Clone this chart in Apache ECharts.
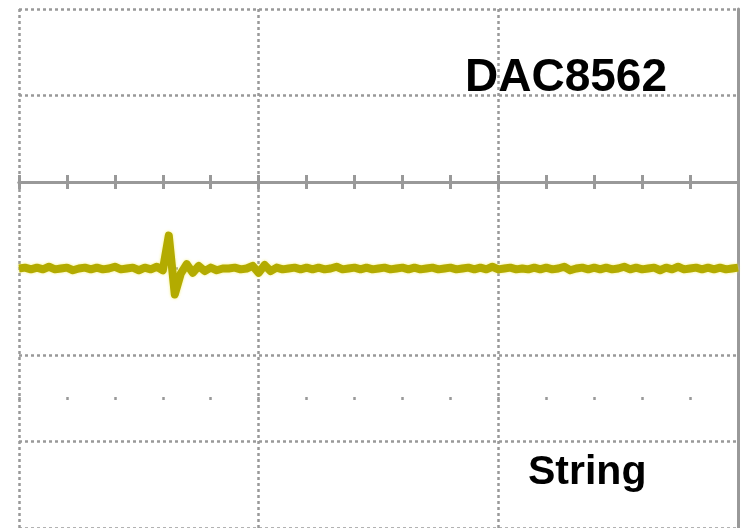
<!DOCTYPE html>
<html>
<head>
<meta charset="utf-8">
<script src="https://cdn.jsdelivr.net/npm/echarts@6/dist/echarts.min.js"></script>
<style>
  html, body { margin: 0; padding: 0; background: #fff; }
  #chart { width: 741px; height: 528px; }
</style>
</head>
<body>
<div id="chart"></div>
<script>
// scope trace, values in divisions (x: time div, y: vertical div, 0 = marked axis)
const sampleStep = 0.025;
const volts = [
  -1.00, -0.99, -1.01, -0.99, -1.01, -0.98, -1.01, -1.00, -0.99, -1.02,
  -1.00, -0.99, -1.01, -0.99, -1.01, -1.00, -0.98, -1.01, -1.00, -0.99,
  -1.02, -0.99, -1.01, -0.98, -1.02,
  -0.62, -1.30, -1.06, -0.95, -1.05, -0.97, -1.03, -0.99, -1.02, -1.00,
  -1.00, -0.99, -1.01, -1.00, -0.97, -1.05, -0.96, -1.03, -0.99, -1.01,
  -1.00, -0.99, -1.01, -0.99, -1.01, -0.99, -1.01, -1.00, -0.98, -1.01,
  -1.00, -0.99, -1.01, -0.99, -1.01, -1.00, -0.99, -1.01, -1.00, -0.99,
  -1.01, -0.99, -1.01, -1.00, -0.99, -1.01, -1.00, -0.99, -1.01, -1.00,
  -0.99, -1.01, -0.99, -1.01, -0.98, -1.01, -1.00, -0.99, -1.01, -1.00,
  -1.01, -0.99, -1.01, -0.99, -1.01, -1.00, -0.98, -1.02, -1.00, -0.99,
  -1.01, -0.99, -1.01, -0.99, -1.01, -1.00, -0.98, -1.01, -0.99, -1.01,
  -1.00, -0.99, -1.02, -0.99, -1.01, -0.98, -1.01, -1.00, -0.99, -1.01,
  -0.99, -1.01, -0.99, -1.01, -1.00, -0.99
];
const titleText = 'DAC8562';
const subText = 'String';

const gridColor = '#999';
const traceColor = '#b3ab00';
const dots = { color: gridColor, width: 2.5, type: [3, 3] };

const trace = volts.map(function (v, i) {
  return [i * sampleStep, v];
});

const chart = echarts.init(document.getElementById('chart'));

chart.setOption({
  animation: false,
  grid: { left: 19, top: 9, width: 719, height: 522 },
  xAxis: [
    {
      type: 'value', min: 0, max: 3, interval: 1,
      axisLine: { onZero: true, onZeroAxisIndex: 0, lineStyle: { color: gridColor, width: 3 } },
      axisTick: { show: true, length: 7, lineStyle: { color: gridColor, width: 3 } },
      minorTick: { show: true, splitNumber: 5, length: 7, lineStyle: { color: gridColor, width: 3 } },
      axisLabel: { show: false },
      splitLine: { show: true, lineStyle: dots }
    },
    {
      type: 'value', min: 0, max: 3, interval: 1, position: 'top',
      axisLine: { onZero: true, onZeroAxisIndex: 0, lineStyle: { color: gridColor, width: 3 } },
      axisTick: { show: true, length: 7, lineStyle: { color: gridColor, width: 3 } },
      minorTick: { show: true, splitNumber: 5, length: 7, lineStyle: { color: gridColor, width: 3 } },
      axisLabel: { show: false },
      splitLine: { show: false }
    },
    {
      type: 'value', min: 0, max: 3, interval: 0.2, position: 'bottom', offset: -131,
      axisLine: { show: false, onZero: false },
      axisTick: { show: true, length: 3, lineStyle: { color: gridColor, width: 2.5 } },
      axisLabel: { show: false },
      splitLine: { show: false }
    }
  ],
  yAxis: [
    {
      type: 'value', min: -4, max: 2, interval: 1,
      axisLine: { show: false },
      axisTick: { show: false },
      axisLabel: { show: false },
      splitLine: { show: true, lineStyle: dots }
    },
    {
      type: 'value', min: -4, max: 2, interval: 1, position: 'right',
      axisLine: { show: true, onZero: false, lineStyle: { color: gridColor, width: 3 } },
      axisTick: { show: false },
      axisLabel: { show: false },
      splitLine: { show: false }
    }
  ],
  series: [
    {
      type: 'line',
      data: trace,
      showSymbol: false,
      z: 5,
      lineStyle: {
        color: traceColor,
        width: 8,
        join: 'round',
        shadowColor: 'rgba(240, 235, 90, 0.8)',
        shadowBlur: 3
      }
    }
  ],
  graphic: [
    {
      type: 'text', left: 465, top: 55, z: 10,
      style: { text: titleText, font: 'bold 46px "Liberation Sans", Arial, sans-serif', fill: '#000' }
    },
    {
      type: 'text', left: 528, top: 452, z: 10,
      style: { text: subText, font: 'bold 41px "Liberation Sans", Arial, sans-serif', fill: '#000' }
    }
  ]
});
</script>
</body>
</html>
